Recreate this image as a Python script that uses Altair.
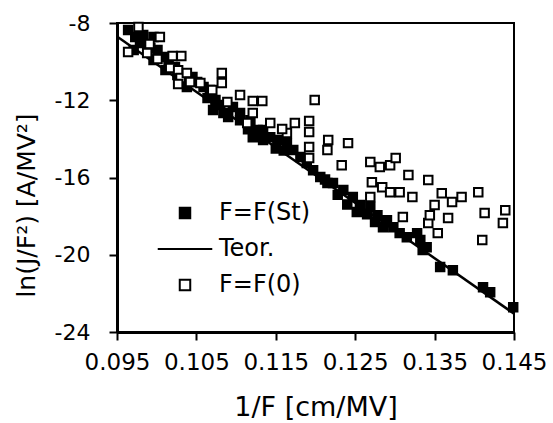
import altair as alt
import pandas as pd

# ---- data ----
series_names = ["F=F(St)", "Teor.", "F=F(0)"]

st_x = [0.0964, 0.0973, 0.0983, 0.0996, 0.0979, 0.0992, 0.0971, 0.1001, 0.1008, 0.0996,
        0.1015, 0.1023, 0.1011, 0.1026, 0.1033, 0.1045, 0.1051, 0.1038, 0.1059, 0.1067,
        0.1064, 0.1074, 0.1080, 0.1071, 0.1084, 0.1090, 0.1096, 0.1105, 0.1118, 0.1127,
        0.1134, 0.1143, 0.1152, 0.1164, 0.1172, 0.1181, 0.1189, 0.1197, 0.1206, 0.1215,
        0.1121, 0.1134, 0.1105, 0.1212, 0.1222, 0.1235, 0.1247, 0.1256, 0.1269, 0.1278,
        0.1290, 0.1298, 0.1306, 0.1315, 0.1328, 0.1332, 0.1340, 0.1252, 0.1285, 0.1357,
        0.1373, 0.1411, 0.1420, 0.1449, 0.1335, 0.1240, 0.1265, 0.1228, 0.1275, 0.1115,
        0.1150, 0.1160]
st_y = [-8.36, -8.73, -8.62, -8.73, -9.04, -9.30, -9.40, -9.40, -9.76, -9.92,
        -10.07, -10.28, -10.44, -10.69, -10.85, -10.80, -11.06, -11.32, -11.32, -11.47,
        -11.89, -11.99, -12.25, -12.51, -12.66, -12.87, -12.35, -12.66, -13.03, -13.54,
        -13.54, -13.91, -14.06, -14.22, -14.58, -14.94, -15.25, -15.62, -15.98, -16.29,
        -13.91, -14.06, -13.03, -16.10, -16.29, -16.65, -17.01, -17.43, -17.53, -17.95,
        -18.21, -18.57, -18.88, -19.09, -18.88, -19.24, -19.61, -17.79, -18.57, -20.64,
        -20.80, -21.68, -21.94, -22.72, -19.76, -17.40, -17.90, -16.90, -18.30, -13.50,
        -14.50, -14.60]

f0_x = [0.0977, 0.1004, 0.0991, 0.0964, 0.0988, 0.1001, 0.1020, 0.1031, 0.1017, 0.1027,
        0.1030, 0.1038, 0.1042, 0.1027, 0.1055, 0.1082, 0.1082, 0.1070, 0.1089, 0.1105,
        0.1121, 0.1133, 0.1199, 0.1121, 0.1114, 0.1143, 0.1174, 0.1192, 0.1164, 0.1192,
        0.1158, 0.1192, 0.1192, 0.1216, 0.1215, 0.1241, 0.1233, 0.1269, 0.1281, 0.1294,
        0.1301, 0.1317, 0.1342, 0.1271, 0.1284, 0.1294, 0.1306, 0.1322, 0.1269, 0.1310,
        0.1342, 0.1359, 0.1372, 0.1384, 0.1405, 0.1350, 0.1344, 0.1367, 0.1413, 0.1439,
        0.1436, 0.1354, 0.1410]
f0_y = [-8.21, -8.73, -9.09, -9.50, -9.55, -9.87, -9.71, -9.71, -10.33, -10.44,
        -10.85, -10.59, -11.06, -11.16, -11.11, -10.59, -11.11, -11.47, -12.09, -11.73,
        -12.04, -12.04, -11.99, -12.66, -13.18, -13.18, -13.18, -13.08, -13.70, -13.65,
        -13.49, -14.42, -14.99, -14.06, -14.58, -14.22, -15.36, -15.20, -15.46, -15.36,
        -14.99, -15.87, -16.13, -16.24, -16.50, -16.76, -16.76, -17.01, -17.01, -18.05,
        -18.36, -16.81, -17.27, -17.01, -16.76, -17.43, -17.95, -18.10, -17.84, -17.69,
        -18.36, -18.88, -19.24]

teor_x = [0.095, 0.145]
teor_y = [-8.70, -23.05]

x_ticks = [0.095, 0.105, 0.115, 0.125, 0.135, 0.145]
y_ticks = [-24, -20, -16, -12, -8]

FONT = "DejaVu Sans"

pts = pd.DataFrame({
    "x": st_x + f0_x,
    "y": st_y + f0_y,
    "series": [series_names[0]] * len(st_x) + [series_names[2]] * len(f0_x),
})
line_df = pd.DataFrame({"x": teor_x, "y": teor_y})

x_enc = alt.X(
    "x:Q",
    scale=alt.Scale(domain=[0.095, 0.145], nice=False, zero=False),
    axis=alt.Axis(values=x_ticks, format=".3f", title="1/F [cm/MV]",
                  labelPadding=11, titlePadding=20, labelOverlap=False,
                  labelFlush=False, labelBound=False, labelFontSize=23,
                  titleFontSize=27),
)
y_enc = alt.Y(
    "y:Q",
    scale=alt.Scale(domain=[-24, -8], nice=False, zero=False),
    axis=alt.Axis(values=y_ticks, labelExpr="'-' + abs(datum.value)",
                  title="ln(J/F²) [A/MV²]", labelPadding=19,
                  labelOverlap=False, labelFlush=False,
                  titleX=-78, titleY=182),
)

line = alt.Chart(line_df).mark_line(color="black", strokeWidth=2.5).encode(
    x=x_enc, y=y_enc
)

leg = alt.Legend(title=None)
points = alt.Chart(pts).mark_point(filled=True, opacity=1, size=72, strokeWidth=2).encode(
    x=x_enc,
    y=y_enc,
    shape=alt.Shape("series:N", scale=alt.Scale(domain=series_names,
                    range=["square", "M-5.2,0H5.2", "square"]), legend=leg),
    fill=alt.Fill("series:N", scale=alt.Scale(domain=series_names,
                  range=["black", "white", "white"]), legend=leg),
    stroke=alt.Stroke("series:N", scale=alt.Scale(domain=series_names,
                      range=["black", "black", "black"]), legend=leg),
)

chart = (
    alt.layer(line, points)
    .properties(
        width=397, height=309,
        autosize=alt.AutoSizeParams(type="none"),
        padding={"left": 117, "top": 23, "right": 39, "bottom": 91},
        background="white",
    )
    .configure_view(stroke="black", strokeWidth=2)
    .configure_axis(
        grid=False,
        domainColor="black", domainWidth=3,
        tickColor="black", tickWidth=2, tickSize=8,
        labelFont=FONT, labelFontSize=22, labelColor="black",
        titleFont=FONT, titleFontSize=25, titleColor="black", titleFontWeight="normal",
    )
    .configure_legend(
        orient="none", legendX=56, legendY=178, padding=0,
        rowPadding=12, labelFont=FONT, labelFontSize=24, labelColor="black",
        labelOffset=22, symbolSize=110, symbolStrokeWidth=2,
    )
)

chart.save("out.html", embed_options={"renderer": "svg", "actions": False})
